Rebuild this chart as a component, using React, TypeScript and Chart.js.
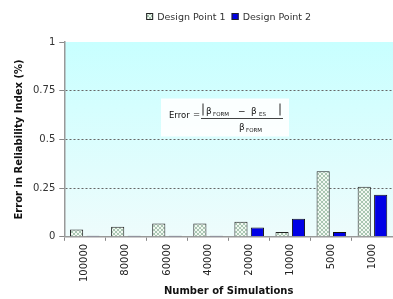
import React, { useEffect, useRef } from "react";
import { Chart, registerables } from "chart.js";

Chart.register(...registerables);

const categories = ["100000", "80000", "60000", "40000", "20000", "10000", "5000", "1000"];
const designPoint1 = [0.038, 0.052, 0.068, 0.068, 0.078, 0.025, 0.337, 0.257];
const designPoint2 = [0.005, 0.005, 0.005, 0.005, 0.048, 0.093, 0.025, 0.216];
const yTickValues = [0, 0.25, 0.5, 0.75, 1];
const seriesNames = ["Design Point 1", "Design Point 2"];
const yTitle = "Error in Reliability Index (%)";
const xTitle = "Number of Simulations";

const FONT = "'DejaVu Sans', Verdana, sans-serif";

function makeHatch(): CanvasPattern | string {
  const c = document.createElement("canvas");
  c.width = 4;
  c.height = 4;
  const g = c.getContext("2d");
  if (!g) return "#eef6ee";
  g.fillStyle = "#f2f8f2";
  g.fillRect(0, 0, 4, 4);
  g.fillStyle = "#a9c6b2";
  for (let i = 0; i < 4; i++) {
    g.fillRect(i, i, 1, 1);
    g.fillRect(3 - i, i, 1, 1);
  }
  const p = g.createPattern(c, "repeat");
  return p || "#eef6ee";
}

const bgPlugin = {
  id: "bgGradient",
  beforeDraw(chart: any) {
    const { ctx, chartArea } = chart;
    if (!chartArea) return;
    const grd = ctx.createLinearGradient(0, chartArea.top, 0, chartArea.bottom);
    grd.addColorStop(0, "#c8ffff");
    grd.addColorStop(1, "#eefcfc");
    ctx.save();
    ctx.fillStyle = grd;
    ctx.fillRect(chartArea.left, chartArea.top, chartArea.right - chartArea.left, chartArea.bottom - chartArea.top);
    ctx.restore();
  },
};

const legendPlugin = {
  id: "customLegend",
  afterDraw(chart: any) {
    const { ctx, chartArea } = chart;
    const ds = chart.data.datasets;
    ctx.save();
    ctx.font = `9.5px ${FONT}`;
    ctx.textBaseline = "alphabetic";
    ctx.textAlign = "left";
    const box = 7;
    const gap = 4;
    const itemGap = 6;
    const widths = ds.map((d: any) => ctx.measureText(d.label).width);
    let total = 0;
    widths.forEach((w: number, i: number) => {
      total += box + gap + w + (i < widths.length - 1 ? itemGap : 0);
    });
    let x = (chartArea.left + chartArea.right) / 2 - total / 2;
    const top = 13;
    ds.forEach((d: any, i: number) => {
      ctx.fillStyle = d.backgroundColor;
      ctx.fillRect(x, top, box, box);
      ctx.strokeStyle = "#222";
      ctx.lineWidth = 1;
      ctx.strokeRect(x + 0.5, top + 0.5, box - 1, box - 1);
      ctx.fillStyle = "#333";
      ctx.fillText(d.label, x + box + gap, top + box);
      x += box + gap + widths[i] + itemGap;
    });
    ctx.restore();
  },
};

const formulaPlugin = {
  id: "formula",
  afterDatasetsDraw(chart: any) {
    const { ctx, chartArea } = chart;
    const y = chart.scales.y;
    const lineY = Math.round(y.getPixelForValue(0.6)) - 1.5;
    const x0 = Math.round(chartArea.left + (chartArea.right - chartArea.left) * 0.415);
    ctx.save();
    ctx.fillStyle = "rgba(255,255,255,0.9)";
    ctx.fillRect(x0 - 40, lineY - 20, 128, 38);
    ctx.fillStyle = "#111";
    ctx.strokeStyle = "#111";
    const big = `9px ${FONT}`;
    const sub = `5.5px ${FONT}`;
    ctx.textBaseline = "alphabetic";
    ctx.textAlign = "left";
    ctx.font = `8.5px ${FONT}`;
    ctx.fillText("Error", x0 - 32, lineY - 1);
    ctx.fillText("=", x0 - 8, lineY - 2);
    // numerator
    const ny = lineY - 5;
    ctx.lineWidth = 0.9;
    ctx.beginPath();
    ctx.moveTo(x0 + 2, ny - 10);
    ctx.lineTo(x0 + 2, ny + 2);
    ctx.moveTo(x0 + 79, ny - 10);
    ctx.lineTo(x0 + 79, ny + 2);
    ctx.stroke();
    ctx.font = big;
    ctx.fillText("β", x0 + 5, ny);
    ctx.font = sub;
    ctx.fillText("FORM", x0 + 12, ny + 2);
    ctx.font = big;
    ctx.fillText("−", x0 + 37, ny);
    ctx.fillText("β", x0 + 50, ny);
    ctx.font = sub;
    ctx.fillText("ES", x0 + 58, ny + 2);
    // fraction line
    ctx.lineWidth = 0.8;
    ctx.beginPath();
    ctx.moveTo(x0, lineY);
    ctx.lineTo(x0 + 82, lineY);
    ctx.stroke();
    // denominator
    const dy = lineY + 11;
    ctx.font = big;
    ctx.fillText("β", x0 + 38, dy);
    ctx.font = sub;
    ctx.fillText("FORM", x0 + 45, dy + 2);
    ctx.restore();
  },
};

export default function App() {
  const ref = useRef<HTMLCanvasElement | null>(null);
  useEffect(() => {
    if (!ref.current) return;
    const hatch = makeHatch();
    const chart = new Chart(ref.current, {
      type: "bar",
      data: {
        labels: categories,
        datasets: [
          {
            label: seriesNames[0],
            data: designPoint1,
            backgroundColor: hatch as any,
            borderColor: "#222",
            borderWidth: 1,
            categoryPercentage: 0.8,
            barPercentage: 0.8,
          },
          {
            label: seriesNames[1],
            data: designPoint2,
            backgroundColor: "#0000e6",
            borderColor: "#111",
            borderWidth: 1,
            categoryPercentage: 0.8,
            barPercentage: 0.8,
          },
        ],
      },
      options: {
        animation: false,
        responsive: false,
        devicePixelRatio: 1,
        layout: { padding: { left: 9, right: 0, top: 42, bottom: 2 } },
        plugins: {
          legend: { display: false },
          tooltip: { enabled: false },
        },
        scales: {
          x: {
            grid: {
              offset: true,
              drawOnChartArea: false,
              drawTicks: true,
              tickLength: 4,
              tickColor: "#888",
            },
            border: { display: true, color: "#999", width: 1.5 },
            ticks: {
              minRotation: 90,
              maxRotation: 90,
              padding: 3,
              color: "#222",
              font: { family: FONT, size: 10 },
            },
            title: {
              display: true,
              text: xTitle,
              color: "#111",
              padding: { top: 0, bottom: 0 },
              font: { family: FONT, size: 10, weight: "bold" },
            },
          },
          y: {
            min: 0,
            max: 1,
            afterBuildTicks: (axis: any) => {
              axis.ticks = yTickValues.map((v) => ({ value: v }));
            },
            ticks: {
              padding: 4,
              color: "#333",
              font: { family: FONT, size: 10 },
              callback: (v: any) => String(v),
            },
            grid: {
              color: (ctx: any) =>
                ctx.tick && (ctx.tick.value === 0 || ctx.tick.value === 1) ? "rgba(0,0,0,0)" : "#666",
              lineWidth: 1,
              tickLength: 5,
              tickColor: "#888",
            },
            border: { display: true, color: "#999", width: 1.5, dash: [2, 2] },
            title: {
              display: true,
              text: yTitle,
              color: "#111",
              padding: { top: 4, bottom: 4 },
              font: { family: FONT, size: 10, weight: "bold" },
            },
          },
        },
      },
      plugins: [bgPlugin, formulaPlugin, legendPlugin],
    });
    return () => chart.destroy();
  }, []);
  return (
    <div style={{ position: "absolute", left: 0, top: 0, width: 393, height: 299 }}>
      <canvas ref={ref} width={393} height={299} />
    </div>
  );
}
